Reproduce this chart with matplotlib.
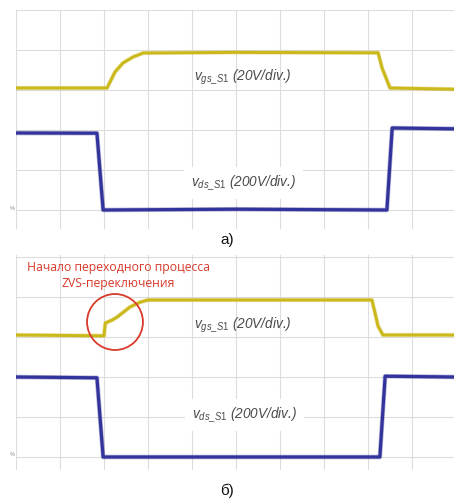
import matplotlib
matplotlib.use('Agg')
import matplotlib.pyplot as plt
import matplotlib.patches as mpatches

# шрифты
matplotlib.rcParams['mathtext.fontset'] = 'custom'
matplotlib.rcParams['mathtext.it'] = 'Liberation Sans:italic'
matplotlib.rcParams['mathtext.rm'] = 'Liberation Sans'
matplotlib.rcParams['font.family'] = ['Liberation Sans', 'DejaVu Sans']

# ---- данные осциллограмм (в делениях экрана) ----
# а) верхняя осциллограмма
top_t_gs = [0, 2.07, 2.25, 2.43, 2.66, 2.89, 5.0, 8.23, 8.32, 8.5, 9.96]
top_v_gs = [3.05, 3.05, 3.45, 3.675, 3.825, 3.925, 3.94, 3.93, 3.55, 3.05, 3.02]
top_t_ds = [0, 1.84, 1.98, 5.0, 8.43, 8.55, 9.96]
top_v_ds = [1.925, 1.92, 0.0, 0.02, 0.0, 2.05, 2.03]

# б) нижняя осциллограмма
bot_t_gs = [0, 2.0, 2.03, 2.18, 2.3, 2.59, 2.82, 3.0, 8.09, 8.23, 8.34, 9.96]
bot_v_gs = [3.05, 3.03, 3.35, 3.42, 3.5, 3.75, 3.87, 3.925, 3.925, 3.27, 3.05, 3.05]
bot_t_ds = [0, 1.84, 1.98, 8.27, 8.39, 9.96]
bot_v_ds = [2.0, 1.98, 0.0, 0.0, 2.02, 2.0]

gs_label = r'$v_{gs\_S1}$ (20V/div.)'
ds_label = r'$v_{ds\_S1}$ (200V/div.)'
note_lines = ['Начало переходного процесса', 'ZVS-переключения']

YELLOW = '#cbb81a'
BLUE = '#33339c'
RED = '#d93a2b'
GRID = '#dcdcdc'


def draw_trace(ax, t, v, color, lw):
    # размытый край + основная линия (имитация шума луча)
    ax.plot(t, v, color=color, lw=lw + 1.0, alpha=0.35, solid_joinstyle='round')
    ax.plot(t, v, color=color, lw=lw, solid_joinstyle='round')


def setup_screen(ax, ylim):
    ax.set_xlim(0, 9.955)
    ax.set_ylim(*ylim)
    for x in range(0, 10):
        ax.axvline(x, color=GRID, lw=0.8, zorder=0)
    for y in range(0, 6):
        ax.axhline(y, color=GRID, lw=0.8, zorder=0)
    ax.set_xticks([])
    ax.set_yticks([])
    for s in ax.spines.values():
        s.set_visible(False)
    # маркер канала слева
    ax.text(-0.09, 0.05, '%', fontsize=4, color='#888888', ha='center',
            va='center', clip_on=False)


def draw_labels(ax, gs_xy, ds_xy):
    ax.text(gs_xy[0], gs_xy[1], gs_label, style='italic', fontsize=9.8,
            color='#4a4a4a', ha='left', va='center', zorder=5)
    ax.text(ds_xy[0], ds_xy[1], ds_label, style='italic', fontsize=9.8,
            color='#4a4a4a', ha='left', va='center', zorder=5,
            bbox=dict(facecolor='white', edgecolor='none', pad=5))


fig = plt.figure(figsize=(4.54, 5.0), dpi=100)

# а)
ax1 = fig.add_axes([16 / 454, 1 - 229 / 500, 438 / 454, 219 / 500])
setup_screen(ax1, (-0.475, 5.0))
draw_trace(ax1, top_t_gs, top_v_gs, YELLOW, 2.1)
draw_trace(ax1, top_t_ds, top_v_ds, BLUE, 2.3)
draw_labels(ax1, (4.05, 3.325), (3.98, 0.675))

# б)
ax2 = fig.add_axes([16 / 454, 1 - 470 / 500, 438 / 454, 215 / 500])
setup_screen(ax2, (-0.325, 5.05))
draw_trace(ax2, bot_t_gs, bot_v_gs, YELLOW, 2.1)
draw_trace(ax2, bot_t_ds, bot_v_ds, BLUE, 2.3)
draw_labels(ax2, (4.05, 3.3), (4.0, 1.05))

# выделение начала переходного процесса
circ = mpatches.Ellipse((2.25, 3.375), width=1.27, height=1.4, fill=False,
                        edgecolor=RED, lw=1.3, zorder=6)
ax2.add_patch(circ)
ax2.text(2.32, 4.725, note_lines[0], fontsize=8.8, color=RED, ha='center',
         va='center', family=['Open Sans', 'DejaVu Sans'], zorder=6)
ax2.text(2.32, 4.35, note_lines[1], fontsize=8.8, color=RED, ha='center',
         va='center', family=['Open Sans', 'DejaVu Sans'], zorder=6)

# подписи
cap_font = ['Liberation Sans Narrow', 'Liberation Sans', 'DejaVu Sans']
fig.text(227 / 454, 1 - 240 / 500, 'а)', fontsize=11, ha='center',
         va='center', family=cap_font, color='#111111')
fig.text(227 / 454, 1 - 491 / 500, 'б)', fontsize=11, ha='center',
         va='center', family=cap_font, color='#111111')

plt.savefig('out.png', dpi=100)
plt.close()
